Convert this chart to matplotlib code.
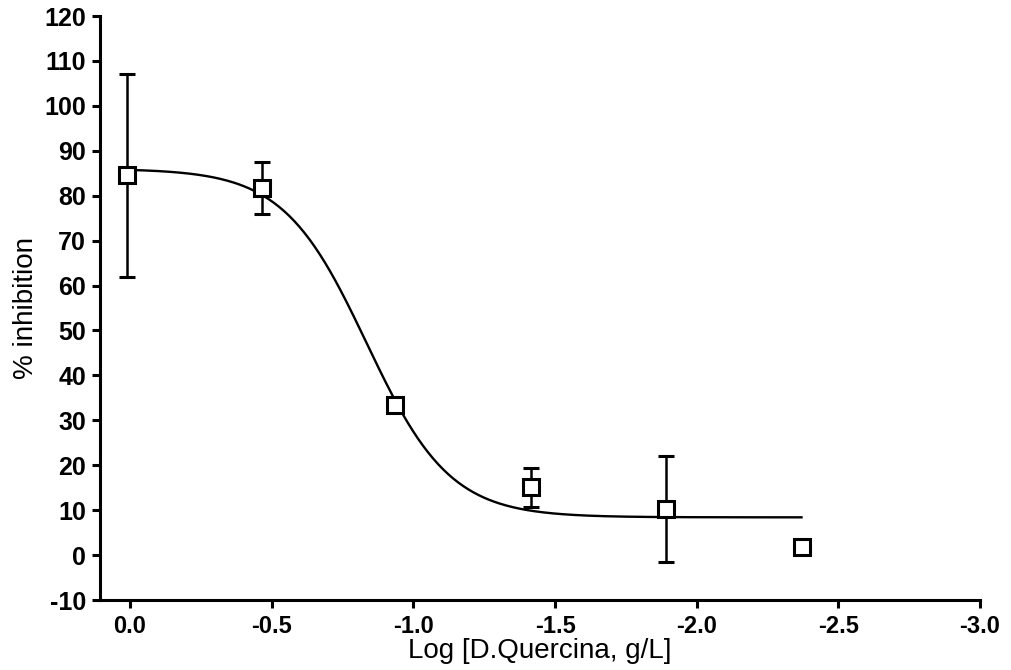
import numpy as np
import matplotlib
matplotlib.use("Agg")
import matplotlib.pyplot as plt

# Data
log_conc = [0.01, -0.465, -0.935, -1.415, -1.89, -2.37]
inhibition = [84.5, 81.8, 33.5, 15.2, 10.3, 1.8]
err_low = [22.5, 5.8, 0.5, 4.4, 11.8, 0.3]
err_high = [22.5, 5.8, 0.5, 4.1, 11.7, 0.3]

# Fitted 4-parameter logistic
fit_bottom = 8.4
fit_top = 86.0
fit_logec50 = -0.835
fit_hill = 2.95
fit_range = (0.01, -2.37)

x_ticks = [0.0, -0.5, -1.0, -1.5, -2.0, -2.5, -3.0]
y_ticks = list(range(-10, 121, 10))

plt.rcParams['font.family'] = ['Liberation Sans', 'DejaVu Sans']
plt.rcParams['axes.unicode_minus'] = False

fig = plt.figure(figsize=(10.11, 6.70), dpi=100)
ax = fig.add_axes([100/1011, 70/670, 880/1011, 584/670])

xc = np.linspace(fit_range[0], fit_range[1], 400)
yc = fit_bottom + (fit_top - fit_bottom) / (1 + 10 ** ((fit_logec50 - xc) * fit_hill))
ax.plot(xc, yc, color='black', lw=1.7, zorder=2)

ax.errorbar(log_conc, inhibition, yerr=[err_low, err_high], fmt='s',
            mfc='white', mec='black', mew=2.2, ms=11.5, ecolor='black',
            elinewidth=1.8, capsize=5.5, capthick=1.8, zorder=3)

ax.set_xlim(0.106, -3.0)
ax.set_ylim(-10, 120)
ax.set_xticks(x_ticks)
ax.set_xticklabels([f"{v:.1f}" for v in x_ticks])
ax.set_yticks(y_ticks)
ax.set_yticklabels([str(v) for v in y_ticks])

for s in ['top', 'right']:
    ax.spines[s].set_visible(False)
for s in ['left', 'bottom']:
    ax.spines[s].set_linewidth(2.2)

ax.tick_params(axis='both', direction='out', length=6, width=2.2,
               labelsize=18, pad=4)
ax.tick_params(axis='x', pad=5, labelsize=17)
for lab in ax.get_xticklabels() + ax.get_yticklabels():
    lab.set_fontweight('bold')

ax.set_xlabel('Log [D.Quercina, g/L]', fontsize=20, labelpad=0)
ax.set_ylabel('% inhibition', fontsize=20, labelpad=4)

fig.savefig('out.png', dpi=100)
